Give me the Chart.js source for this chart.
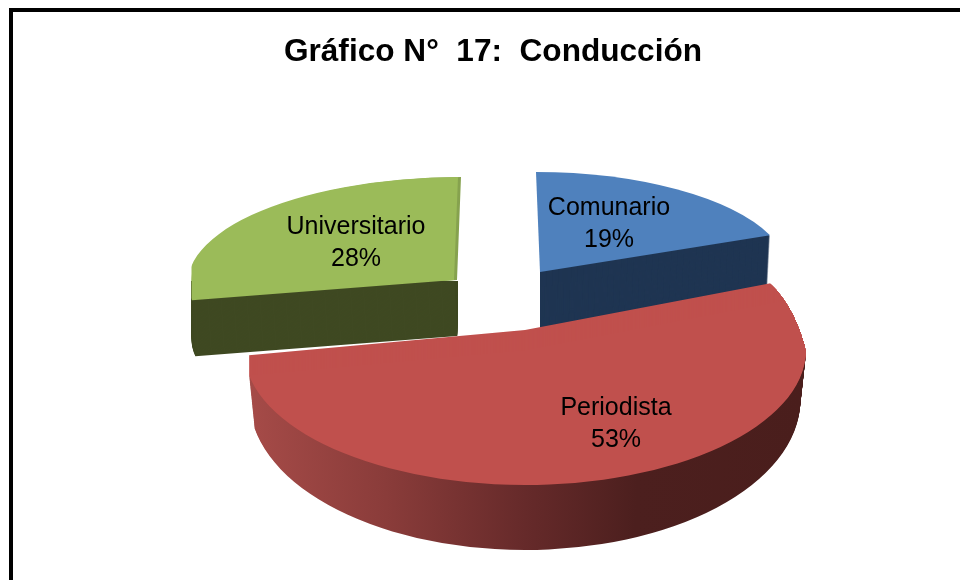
<!DOCTYPE html>
<html><head><meta charset="utf-8">
<style>html,body{margin:0;padding:0;background:#fff}#wrap{width:960px;height:580px}</style>
<script src="https://cdn.jsdelivr.net/npm/chart.js@4/dist/chart.umd.min.js"></script>
</head><body><div id="wrap"><canvas id="c" width="960" height="580"></canvas></div>
<script>
const categories = ['Comunario','Periodista','Universitario'];
const percentages = [19,53,28];
const topColors = ['#4f81bd','#c0504d','#9bbb59'];
const wallColors = ['#1f3552','#6b2a28','#3f4922'];
const chartTitle = 'Gráfico N°  17:  Conducción';

// Perspective look: each slice gets its own affine placement and extrusion.
const placement = [
  {o:[540,272],u:[249,0],v:[4,100],depth:60,skew:-0.05,shrink:0,grow:0,lift:0,label:[609,224]},
  {o:[525,350],u:[281,0],v:[0,135],depth:50,skew:0,shrink:0.02,grow:15,lift:20,label:[616,424]},
  {o:[454,280],u:[266,-1],v:[-4,103],depth:56,skew:0.06,shrink:0,grow:0,lift:0,label:[356,243.5]}
];
const drawOrder = [2,0,1];

const pie3d = {
  id:'pie3d',
  beforeDraw(chart){
    const c = chart.ctx;
    c.save();
    c.fillStyle='#fff';c.fillRect(0,0,960,580);
    c.fillStyle='#000';
    c.fillRect(9,8,951,4);
    c.fillRect(9,8,4,572);
    c.restore();
  },
  beforeDatasetsDraw(chart){
    const c = chart.ctx, arcs = chart.getDatasetMeta(0).data;
    const paint=(el,i,dy,fill,dx=0)=>{
      const p=placement[i],R=el.outerRadius,cx=el.x,cy=el.y;
      const t=Math.max(0,dy)/p.depth;
      const k=1-p.shrink*t, vy=p.v[1]+p.grow*t;
      const a=p.u[0]*k/R,b=p.u[1]*k/R,cc=p.v[0]/R,d=vy/R;
      c.save();
      c.translate(p.skew*dy+dx,dy);
      c.transform(a,b,cc,d,p.o[0]-a*cx-cc*cy,p.o[1]-b*cx-d*cy);
      const saved=el.options;
      el.options=Object.assign({},saved,{backgroundColor:fill,borderWidth:0,borderColor:'transparent'});
      el.draw(c);
      el.options=saved;
      c.restore();
    };
    const poly=(pts)=>{c.beginPath();pts.forEach((q,j)=>j?c.lineTo(q[0],q[1]):c.moveTo(q[0],q[1]));c.closePath();c.clip();};
    drawOrder.forEach(i=>{
      const el=arcs[i], p=placement[i];
      let wall=wallColors[i];
      if(i===1){
        const g=c.createLinearGradient(el.x-el.outerRadius,0,el.x+el.outerRadius,0);
        g.addColorStop(0,'#a64b48');
        g.addColorStop(0.25,'#8a3c3a');
        g.addColorStop(0.5,'#662a2a');
        g.addColorStop(0.7,'#4c1f1e');
        g.addColorStop(1,'#4a1e1c');
        wall=g;
      }
      c.save();
      if(i===1){ // trim the far right shoulder of the red slice
        c.beginPath();
        c.moveTo(0,0);c.lineTo(770,0);c.lineTo(770,283);c.quadraticCurveTo(797,310,807,356);c.lineTo(960,356);c.lineTo(960,580);c.lineTo(0,580);c.closePath();c.clip();
      }
      if(i===2){
        poly([[191.5,0],[960,0],[960,580],[191.5,580]]);
        paint(el,i,0,'#86a24e',3); // thin lit edge on the cut side
      }
      c.save();
      if(i===0) poly([[541,100],[900,100],[900,400],[540,400],[540,272]]);
      if(i===2) poly([[0,281],[458,281],[458,400],[0,400]]);
      for(let dy=p.depth;dy>0;dy--) paint(el,i,dy,wall);
      c.restore();
      for(let dy=-p.lift;dy<=0;dy++) paint(el,i,dy,topColors[i]);
      c.restore();
    });
    return false;
  },
  afterDraw(chart){
    const c=chart.ctx;
    c.save();
    c.fillStyle='#000';
    c.textAlign='center';c.textBaseline='middle';
    c.font='bold 31.6px "Liberation Sans"';
    c.fillText(chartTitle,493,52);
    c.font='25px "Liberation Sans"';
    categories.forEach((n,i)=>{
      const [x,y]=placement[i].label;
      c.fillText(n,x,y-16);
      c.fillText(percentages[i]+'%',x,y+16);
    });
    c.restore();
  }
};

new Chart(document.getElementById('c'),{
  type:'pie',
  data:{labels:categories,datasets:[{data:percentages,backgroundColor:topColors,borderWidth:0}]},
  plugins:[pie3d],
  options:{
    responsive:false,animation:false,
    layout:{padding:{top:80,left:100,right:100,bottom:60}},
    plugins:{legend:{display:false},tooltip:{enabled:false},title:{display:false}}
  }
});
</script></body></html>
